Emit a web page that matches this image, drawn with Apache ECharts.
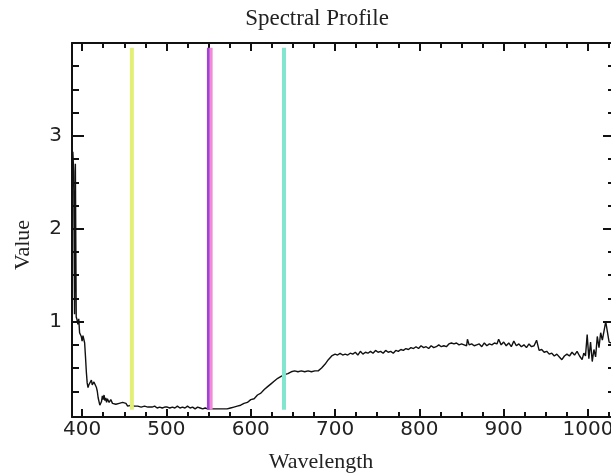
<!DOCTYPE html>
<html>
<head>
<meta charset="utf-8">
<script src="https://cdn.jsdelivr.net/npm/echarts@6/dist/echarts.min.js"></script>
<style>
html,body{margin:0;padding:0;background:#fff;overflow:hidden;width:611px;height:474px;}
#chart{width:617px;height:474px;}
</style>
</head>
<body>
<div id="chart"></div>
<script>
// ---- data ----
const wavelengths = [
388,389,390,391,392,393,394,395,396,397,398,399,400,401,402,403,404,405,406,407,408,409,410,
411,412,413,414,415,416,417,418,419,420,421,422,423,424,425,426,427,428,429,430,432,434,436,
438,440,442,444,446,448,450,452,454,456,458,460,462,464,466,468,470,472,474,476,478,480,483,
486,489,492,495,498,501,504,507,510,513,516,519,522,525,528,531,534,537,540,543,546,549,552,
556,560,564,568,572,576,580,584,588,592,596,600,604,608,612,616,620,624,628,632,636,640,644,
648,652,656,660,664,668,672,676,680,684,688,692,696,700,703,706,709,712,715,718,721,724,727,
730,733,736,739,742,745,748,751,754,757,760,763,766,769,772,775,778,781,784,787,790,793,796,
799,802,805,808,811,814,817,820,823,826,829,832,835,838,841,844,847,850,853,856,857,859,862,
865,868,871,874,877,880,883,886,889,892,894,897,900,903,906,909,912,915,918,921,924,927,930,
933,936,939,942,945,948,951,954,957,960,963,966,969,972,975,978,981,984,987,990,993,995,997,
999,1001,1003,1005,1007,1009,1011,1013,1015,1017,1019,1021,1023,1025,1027,1030
];
const values = [
2.20,2.83,2.62,1.08,2.70,1.05,1.02,0.97,1.03,0.88,0.86,0.84,0.79,0.85,0.81,0.77,0.62,0.46,0.34,0.29,0.32,0.30,0.33,
0.37,0.32,0.31,0.35,0.37,0.33,0.29,0.25,0.18,0.16,0.10,0.08,0.14,0.20,0.16,0.21,0.15,0.18,0.13,0.17,0.13,0.16,0.12,
0.14,0.11,0.13,0.12,0.10,0.13,0.11,0.12,0.09,0.11,0.10,0.12,0.09,0.11,0.09,0.10,0.08,0.10,0.09,0.11,0.08,0.09,0.08,
0.09,0.07,0.08,0.07,0.08,0.08,0.07,0.08,0.07,0.09,0.07,0.08,0.07,0.09,0.07,0.08,0.06,0.08,0.07,0.06,0.07,0.06,0.06,
0.06,0.06,0.06,0.06,0.06,0.07,0.08,0.09,0.10,0.12,0.13,0.16,0.17,0.21,0.23,0.27,0.30,0.33,0.36,0.39,0.41,0.43,0.44,
0.46,0.47,0.46,0.47,0.46,0.47,0.46,0.47,0.47,0.50,0.54,0.59,0.63,0.65,0.64,0.66,0.64,0.65,0.64,0.66,0.65,0.67,0.64,
0.68,0.65,0.67,0.66,0.68,0.66,0.69,0.67,0.68,0.66,0.69,0.67,0.68,0.66,0.69,0.68,0.70,0.69,0.71,0.70,0.72,0.71,0.73,
0.71,0.74,0.72,0.73,0.71,0.74,0.72,0.73,0.75,0.73,0.74,0.73,0.76,0.77,0.76,0.77,0.75,0.76,0.75,0.74,0.81,0.75,0.76,
0.74,0.75,0.76,0.73,0.77,0.74,0.76,0.75,0.77,0.76,0.81,0.75,0.78,0.74,0.77,0.73,0.79,0.74,0.76,0.73,0.75,0.72,0.76,
0.73,0.74,0.80,0.69,0.70,0.67,0.68,0.65,0.66,0.63,0.65,0.62,0.59,0.63,0.65,0.63,0.67,0.64,0.68,0.63,0.59,0.66,0.63,
0.86,0.60,0.78,0.57,0.70,0.62,0.84,0.72,0.88,0.80,0.90,1.00,1.00,0.78,0.80,0.76
];
// vertical band-marker lines (wavelength, colour)
const markerWavelengths = [459, 549.8, 553, 639.4];
const markerColors = ['#e4ef78', '#a043d4', '#f28ad8', '#82e6cf'];
const markerWidths = [4, 3, 3, 4];
const markerRange = [0.05, 3.95];
// tick labels / positions
const xMajorTicks = [400, 500, 600, 700, 800, 900, 1000];
const xMinorTicks = [425,450,475,525,550,575,625,650,675,725,750,775,825,850,875,925,950,975,1025];
const yMajorTicks = [1, 2, 3];
const yMinorTicks = [0.25,0.5,0.75,1.25,1.5,1.75,2.25,2.5,2.75,3.25,3.5,3.75];

const X_MIN = 388, X_MAX = 1032, Y_MIN = -0.027, Y_MAX = 4;
const ink = '#111';

function xAxisDef(position, ticks, len, labels, line) {
  return {
    type: 'value', position: position, min: X_MIN, max: X_MAX,
    axisLine: { show: line, onZero: false, lineStyle: { color: ink, width: 2 } },
    axisTick: { show: true, inside: true, length: len, customValues: ticks, lineStyle: { color: ink, width: 2 } },
    axisLabel: labels ? { show: true, customValues: ticks, margin: 3, fontFamily: 'DejaVu Sans', fontSize: 20, color: '#222', formatter: v => String(v) } : { show: false },
    splitLine: { show: false }
  };
}
function yAxisDef(position, ticks, len, labels, line) {
  return {
    type: 'value', position: position, min: Y_MIN, max: Y_MAX,
    axisLine: { show: line, onZero: false, lineStyle: { color: ink, width: 2 } },
    axisTick: { show: true, inside: true, length: len, customValues: ticks, lineStyle: { color: ink, width: 2 } },
    axisLabel: labels ? { show: true, customValues: ticks, margin: 10, fontFamily: 'DejaVu Sans', fontSize: 20, color: '#222', formatter: v => String(v) } : { show: false },
    splitLine: { show: false }
  };
}

const series = [{
  type: 'line',
  data: wavelengths.map((w, i) => [w, values[i]]),
  showSymbol: false,
  symbol: 'none',
  lineStyle: { color: ink, width: 1.4 },
  xAxisIndex: 0, yAxisIndex: 0,
  z: 3
}];
markerWavelengths.forEach((w, i) => {
  series.push({
    type: 'line',
    data: [[w, markerRange[0]], [w, markerRange[1]]],
    showSymbol: false, symbol: 'none',
    lineStyle: { color: markerColors[i], width: markerWidths[i] },
    xAxisIndex: 0, yAxisIndex: 0,
    z: 4
  });
});

const chart = echarts.init(document.getElementById('chart'));
chart.setOption({
  animation: false,
  backgroundColor: '#fff',
  grid: { left: 72, right: 2, top: 43, bottom: 57, containLabel: false },
  xAxis: [
    xAxisDef('bottom', xMajorTicks, 8, true, true),
    xAxisDef('bottom', xMinorTicks, 5, false, false),
    xAxisDef('top', xMajorTicks, 8, false, true),
    xAxisDef('top', xMinorTicks, 5, false, false)
  ],
  yAxis: [
    yAxisDef('left', yMajorTicks, 12, true, true),
    yAxisDef('left', yMinorTicks, 7, false, false),
    yAxisDef('right', yMajorTicks, 12, false, true),
    yAxisDef('right', yMinorTicks, 7, false, false)
  ],
  series: series,
  graphic: [
    { type: 'text', x: 317, y: 19, style: { text: 'Spectral Profile', font: '23px "Liberation Serif"', fill: '#222', textAlign: 'center', textVerticalAlign: 'middle' } },
    { type: 'text', x: 321, y: 462, style: { text: 'Wavelength', font: '22px "Liberation Serif"', fill: '#222', textAlign: 'center', textVerticalAlign: 'middle' } },
    { type: 'text', x: 23, y: 245, rotation: Math.PI / 2, style: { text: 'Value', font: '22px "Liberation Serif"', fill: '#222', textAlign: 'center', textVerticalAlign: 'middle' } }
  ]
});
</script>
</body>
</html>
